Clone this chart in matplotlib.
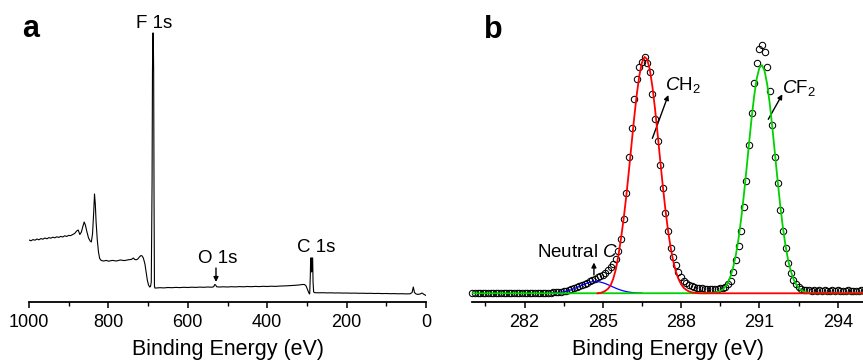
import numpy as np
import matplotlib
matplotlib.use('Agg')
import matplotlib.pyplot as plt

plt.rcParams['font.family'] = ['Liberation Sans', 'DejaVu Sans']
plt.rcParams['mathtext.fontset'] = 'custom'
plt.rcParams['mathtext.rm'] = 'Liberation Sans'
plt.rcParams['mathtext.it'] = 'Liberation Sans:italic'

# ---- panel a: survey spectrum (binding energy / intensity, arb. units)
survey_be = [1000, 995, 990, 985, 980, 975, 970, 965, 960, 955,
             950, 945, 940, 935, 930, 925, 920, 915, 910, 905,
             900, 895, 890, 885, 880, 876, 872, 868, 864, 861,
             858, 854, 850, 846, 843, 840, 837, 835, 833, 831,
             828, 825, 822, 818, 812, 805, 800, 790, 780, 770,
             760, 750, 742, 737, 734, 730, 726, 722, 718, 715,
             712, 708, 705, 702, 699, 696, 694, 692, 690, 689,
             688, 687, 686, 685, 684, 683, 680, 670, 660, 650,
             640, 630, 620, 610, 600, 590, 580, 570, 560, 550,
             540, 535, 532, 530, 527, 520, 510, 500, 490, 480,
             470, 460, 450, 440, 430, 420, 410, 400, 390, 380,
             370, 360, 350, 340, 330, 320, 312, 306, 302, 298,
             295, 293, 291.5, 290.5, 289, 288, 287, 285.5, 284.5, 283,
             280, 270, 260, 250, 240, 230, 220, 210, 200, 190,
             180, 170, 160, 150, 140, 130, 120, 110, 100, 90,
             80, 70, 60, 50, 40, 35, 32, 29, 25, 20,
             15, 10, 6, 3, 0]
survey_int = [62.0, 61.2, 62.4, 61.8, 63.0, 62.2, 63.4, 62.8, 64.0, 63.2,
              64.4, 63.8, 64.8, 64.2, 65.2, 64.6, 65.6, 65.0, 66.2, 65.6,
              66.6, 66.4, 67.4, 68.5, 71.0, 72.0, 67.5, 70.0, 76.0, 80.0,
              77.0, 70.0, 64.0, 61.0, 60.0, 68.0, 90.0, 108.0, 98.0, 80.0,
              62.0, 50.0, 43.5, 41.5, 41.0, 41.6, 40.8, 41.6, 41.0, 42.0,
              41.4, 42.2, 42.6, 44.0, 42.6, 42.2, 43.0, 45.0, 46.5, 46.0,
              44.0, 38.0, 30.0, 22.0, 17.0, 15.0, 15.5, 20.0, 120.0, 230.0,
              269.0, 269.0, 230.0, 100.0, 16.0, 14.0, 14.0, 14.3, 14.1, 14.5,
              14.3, 14.6, 14.4, 14.7, 14.5, 14.8, 14.6, 14.9, 14.7, 15.0,
              14.8, 15.2, 17.5, 17.0, 15.2, 15.0, 15.2, 15.0, 15.3, 15.1,
              15.4, 15.2, 15.5, 15.3, 15.6, 15.4, 15.7, 15.5, 15.8, 15.6,
              15.9, 16.0, 16.2, 16.4, 16.7, 17.0, 17.5, 17.5, 16.0, 12.0,
              9.0, 8.0, 25.0, 44.0, 44.0, 30.0, 44.0, 44.0, 20.0, 10.0,
              9.3, 9.2, 9.3, 9.1, 9.2, 9.0, 9.1, 8.9, 9.0, 8.8,
              8.9, 8.7, 8.8, 8.6, 8.7, 8.5, 8.6, 8.4, 8.5, 8.3,
              8.4, 8.2, 8.3, 8.1, 8.2, 9.5, 15.0, 9.5, 8.0, 7.6,
              8.0, 9.0, 7.8, 7.2, 6.5]

# ---- panel b: C 1s high resolution, 0.1 eV steps
c1s_start = 280.0
c1s_data = [0.4, 0.2, 0.5, 0.1, 0.6, 0.3, 0.0, 0.4, 0.6, 0.2,
            0.3, 0.7, 0.2, 0.4, 0.1, 0.5, 0.3, 0.0, 0.4, 0.6,
            0.2, 0.5, 0.3, 0.4, 0.7, 0.3, 0.5, 0.6, 0.4, 0.8,
            0.6, 0.9, 1.0, 1.2,
            1.5, 2.0, 2.6, 3.3, 4.0, 5.0, 6.0, 7.2, 8.4, 9.6,
            10.8, 12.0, 13.4, 14.8, 16.0, 17.3, 18.8, 20.8, 23.2, 26.0,
            29.5, 34.5, 42.0, 54.0,
            74, 100, 136, 165, 194, 214, 226, 231, 236, 230,
            221, 199, 174, 152, 128, 105, 80, 62, 45, 36,
            28, 21.5, 16.5, 12.8, 10.5, 8.5, 7.0, 6.2, 5.6, 5.2,
            5.0, 4.8, 4.7, 4.6, 4.6, 4.5, 4.8, 5.0, 5.6, 6.8,
            9.0, 12.5,
            21, 33, 47, 62, 86, 112, 148, 180, 210, 230,
            244, 248, 241, 226, 202, 168, 136, 110, 83, 62,
            45, 30, 20, 13.5, 9.5, 6.8, 4.8, 3.8,
            3.2, 3.0, 2.8, 3.1, 2.7, 2.9, 2.6, 3.0, 2.8, 2.5,
            2.9, 2.7, 3.1, 2.6, 2.8, 2.4, 2.9, 2.7, 2.5, 2.8,
            2.6, 2.9, 2.7]

neutral_start = 283.0
neutral_fit = [0.19, 0.31, 0.48, 0.72, 1.05, 1.49, 2.07, 2.78, 3.64, 4.64,
               5.74, 6.92, 8.11, 9.24, 10.24, 11.03, 11.56, 11.79, 11.69, 11.28,
               10.58, 9.66, 8.57, 7.40, 6.21, 5.07, 4.02, 3.11, 2.34, 1.71,
               1.21, 0.84, 0.56, 0.36, 0.23, 0.14]

ch2_start = 284.8
ch2_fit = [0.0, 0.3, 1.2, 2.5, 4.5, 8.0, 14.5, 24.0, 38.0, 55.4,
           74.7, 97.3, 122.4, 148.8, 174.9, 198.5, 217.7, 230.8, 236.4, 234.0,
           223.8, 206.8, 184.7, 159.4, 132.9, 107.1, 83.4, 62.7, 45.6, 32.0,
           21.7, 14.3, 9.0, 5.5, 3.3, 1.9, 1.0, 0.55, 0.3, 0.1, 0.0]

cf2_start = 289.0
cf2_fit = [0.08, 0.16, 0.33, 0.65, 1.2, 2.3, 4.0, 6.8, 11.0, 17.4,
           26.4, 38.7, 54.5, 74.1, 97.1, 122.6, 149.1, 174.8, 197.5, 215.0,
           225.6, 228.1, 222.3, 208.8, 188.9, 164.8, 138.5, 112.2, 87.5, 65.8,
           47.7, 33.3, 22.4, 14.6, 9.1, 5.5, 3.2, 1.8, 0.96, 0.5,
           0.24, 0.1]

be_lo, be_hi = 280.0, 295.0


def grid(start, vals):
    return np.round(start + 0.1 * np.arange(len(vals)), 1)


fig = plt.figure(figsize=(8.63, 3.63), dpi=100)

axa = fig.add_axes([29 / 863, 61 / 363, 397 / 863, 282 / 363])
axb = fig.add_axes([472.3 / 863, 61 / 363, 391.5 / 863, 282 / 363])

for ax in (axa, axb):
    for s in ('left', 'right', 'top'):
        ax.spines[s].set_visible(False)
    ax.spines['bottom'].set_linewidth(1.3)
    ax.set_yticks([])
    ax.tick_params(axis='x', which='major', direction='out', length=4.5,
                   width=1.1, labelsize=13, pad=4)
    ax.tick_params(axis='x', which='minor', direction='out', length=2.6,
                   width=1.0)

# panel a
axa.plot(survey_be, survey_int, color='black', lw=0.8)
axa.set_xlim(1000, 0)
axa.set_ylim(0, 282)
axa.set_xticks([1000, 800, 600, 400, 200, 0])
axa.set_xticks([900, 700, 500, 300, 100], minor=True)
axa.text(684, 274, 'F 1s', ha='center', va='baseline', fontsize=13.5)
axa.text(524, 38.7, 'O 1s', ha='center', va='baseline', fontsize=13.5)
axa.text(277, 50.3, 'C 1s', ha='center', va='baseline', fontsize=13.5)
axa.annotate('', xy=(529, 20), xytext=(529, 34),
             arrowprops=dict(arrowstyle='-|>', color='black', lw=1,
                             mutation_scale=7, shrinkA=0, shrinkB=0))

# panel b
axb.plot(grid(c1s_start, c1s_data), c1s_data, 'o', ms=4.6, mfc='none',
         mec='black', mew=0.75, clip_on=False, zorder=2)
axb.plot(grid(neutral_start, neutral_fit), neutral_fit, color='#0000ff',
         lw=0.9, zorder=3)
cf2_x = np.concatenate([[be_lo], grid(cf2_start, cf2_fit), [be_hi]])
cf2_y = np.concatenate([[0.0], cf2_fit, [0.0]])
axb.plot(cf2_x, cf2_y, color='#00d200', lw=1.3, zorder=4)
ch2_x = np.concatenate([grid(ch2_start, ch2_fit), [be_hi]])
ch2_y = np.concatenate([ch2_fit, [0.0]])
axb.plot(ch2_x, ch2_y, color='#ff0000', lw=1.3, zorder=5)

axb.set_xlim(be_lo, be_hi)
axb.set_ylim(-8.7, 273.3)
axb.set_xticks([282, 285, 288, 291, 294])
axb.set_xticks([280.5, 283.5, 286.5, 289.5, 292.5], minor=True)

arrow = dict(arrowstyle='-|>', color='black', lw=1, mutation_scale=7,
             shrinkA=0, shrinkB=0)
axb.annotate('', xy=(287.51, 198.3), xytext=(286.90, 155), arrowprops=arrow)
axb.annotate('', xy=(291.88, 199), xytext=(291.34, 174), arrowprops=arrow)
axb.annotate('', xy=(284.66, 30.8), xytext=(284.66, 18.3), arrowprops=arrow)
axb.text(287.38, 203.3, r'$\mathit{C}\mathrm{H}_2$', ha='left', va='baseline',
         fontsize=13.5)
axb.text(291.85, 200.6, r'$\mathit{C}\mathrm{F}_2$', ha='left', va='baseline',
         fontsize=13.5)
axb.text(282.47, 36.6, r'Neutral $\mathit{C}$', ha='left', va='baseline',
         fontsize=13.5)

# axis titles, partly cut by the lower edge as in the original
fig.text(227.5 / 863, 8 / 363, 'Binding Energy (eV)', ha='center',
         va='baseline', fontsize=15.5)
fig.text(668 / 863, 8 / 363, 'Binding Energy (eV)', ha='center',
         va='baseline', fontsize=15.5)

fig.text(31 / 863, 1 - 37 / 363, 'a', ha='center', va='baseline',
         fontsize=22, fontweight='bold')
fig.text(493 / 863, 1 - 38 / 363, 'b', ha='center', va='baseline',
         fontsize=22, fontweight='bold')

fig.savefig('out.png', dpi=100)
